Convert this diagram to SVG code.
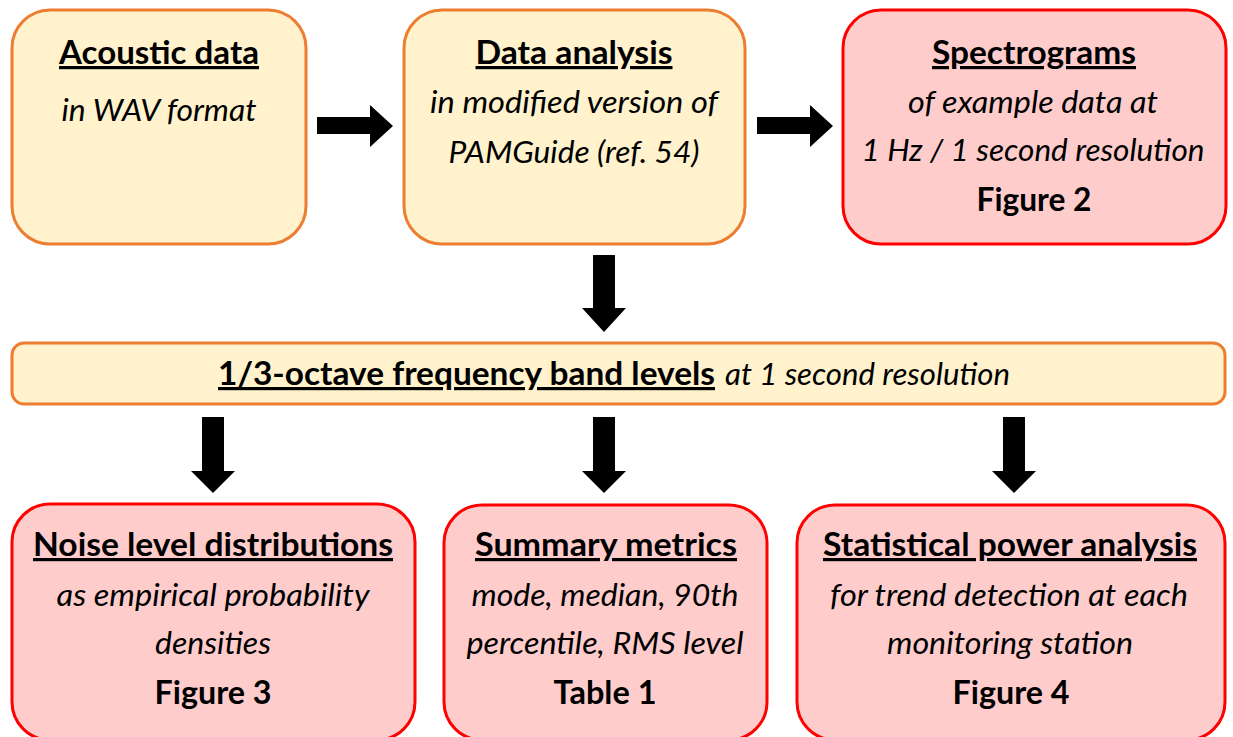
<svg xmlns="http://www.w3.org/2000/svg" width="1233" height="737" viewBox="0 0 1233 737">
<style>
.y{fill:#FFF2CC;stroke:#ED7D31;stroke-width:3}
.r{fill:#FFCCCC;stroke:#FF0000;stroke-width:3}
text{font-family:Lato,"Liberation Sans",sans-serif;fill:#000;text-anchor:middle}
.t{font-weight:bold;font-size:32px;text-decoration:underline}
.i{font-style:italic;font-size:31px}
.f{font-weight:bold;font-size:33px}
.a{fill:#000}
</style>
<rect width="1233" height="737" fill="#fff"/>
<g id="acoustic">
<rect class="y" x="12" y="10" width="294" height="234" rx="38"/>
<text class="t" x="159" y="64" textLength="200" lengthAdjust="spacingAndGlyphs">Acoustic data</text>
<text class="i" x="159" y="121" textLength="195" lengthAdjust="spacingAndGlyphs">in WAV format</text>
</g>
<g id="analysis">
<rect class="y" x="404" y="10" width="341" height="234" rx="38"/>
<text class="t" x="574" y="64" textLength="197" lengthAdjust="spacingAndGlyphs">Data analysis</text>
<text class="i" x="574" y="113" textLength="288" lengthAdjust="spacingAndGlyphs">in modified version of</text>
<text class="i" x="574" y="163" textLength="251" lengthAdjust="spacingAndGlyphs">PAMGuide (ref. 54)</text>
</g>
<g id="spectrograms">
<rect class="r" x="843" y="10" width="383" height="234" rx="38"/>
<text class="t" x="1034" y="64" textLength="204" lengthAdjust="spacingAndGlyphs">Spectrograms</text>
<text class="i" x="1033" y="113" textLength="250" lengthAdjust="spacingAndGlyphs">of example data at</text>
<text class="i" x="1033" y="161" textLength="343" lengthAdjust="spacingAndGlyphs">1 Hz / 1 second resolution</text>
<text class="f" x="1034" y="211" textLength="115" lengthAdjust="spacingAndGlyphs">Figure 2</text>
</g>
<g id="bands">
<rect class="y" x="12" y="343" width="1213" height="61" rx="12"/>
<text x="618" y="385" style="text-anchor:start"><tspan x="218" class="t" textLength="497" lengthAdjust="spacingAndGlyphs">1/3-octave frequency band levels</tspan><tspan x="725" class="i" textLength="285" lengthAdjust="spacingAndGlyphs">at 1 second resolution</tspan></text>
</g>
<g id="distributions">
<rect class="r" x="12" y="504" width="403" height="236" rx="38"/>
<text class="t" x="213" y="556" textLength="360" lengthAdjust="spacingAndGlyphs">Noise level distributions</text>
<text class="i" x="213" y="606" textLength="313" lengthAdjust="spacingAndGlyphs">as empirical probability</text>
<text class="i" x="213" y="654" textLength="116" lengthAdjust="spacingAndGlyphs">densities</text>
<text class="f" x="213" y="704" textLength="117" lengthAdjust="spacingAndGlyphs">Figure 3</text>
</g>
<g id="summary">
<rect class="r" x="444" y="505" width="323" height="235" rx="38"/>
<text class="t" x="606" y="556" textLength="262" lengthAdjust="spacingAndGlyphs">Summary metrics</text>
<text class="i" x="605" y="606" textLength="267" lengthAdjust="spacingAndGlyphs">mode, median, 90th</text>
<text class="i" x="605" y="654" textLength="277" lengthAdjust="spacingAndGlyphs">percentile, RMS level</text>
<text class="f" x="605" y="704" textLength="103" lengthAdjust="spacingAndGlyphs">Table 1</text>
</g>
<g id="power">
<rect class="r" x="797" y="505" width="428" height="235" rx="38"/>
<text class="t" x="1010" y="556" textLength="374" lengthAdjust="spacingAndGlyphs">Statistical power analysis</text>
<text class="i" x="1009" y="606" textLength="358" lengthAdjust="spacingAndGlyphs">for trend detection at each</text>
<text class="i" x="1010" y="654" textLength="246" lengthAdjust="spacingAndGlyphs">monitoring station</text>
<text class="f" x="1011" y="704" textLength="117" lengthAdjust="spacingAndGlyphs">Figure 4</text>
</g>
<g id="connectors">
<polygon class="a" points="317,117 370,117 370,105 393,126 370,147 370,134 317,134"/>
<polygon class="a" points="757,117 810,117 810,105 833,126 810,147 810,134 757,134"/>
<polygon class="a" points="593,255 615,255 615,308 626,308 604,332 582,308 593,308"/>
<polygon class="a" points="202,417 224,417 224,471 235,471 213,493 191,471 202,471"/>
<polygon class="a" points="593,417 615,417 615,471 626,471 604,493 582,471 593,471"/>
<polygon class="a" points="1003,417 1025,417 1025,471 1036,471 1014,493 992,471 1003,471"/>
</g>
</svg>
